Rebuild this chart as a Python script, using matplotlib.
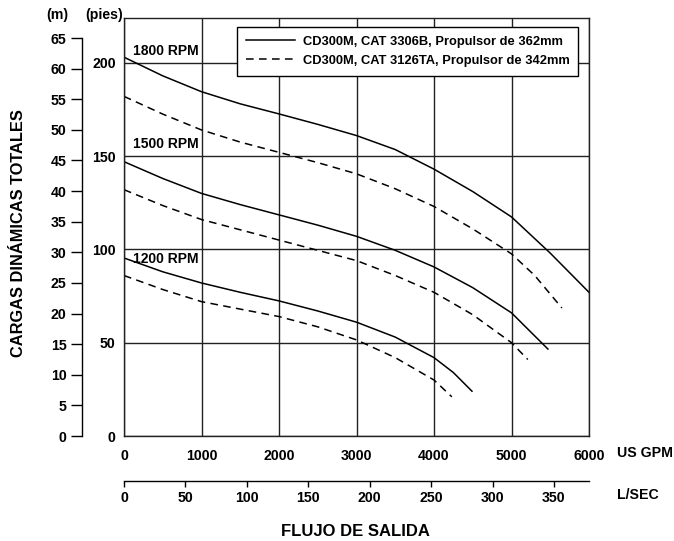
import matplotlib
matplotlib.use("Agg")
import matplotlib.pyplot as plt

plt.rcParams["font.family"] = ["Liberation Sans", "DejaVu Sans"]
plt.rcParams["font.weight"] = "bold"

# pump curves, flow in US GPM, head in feet
GPM_PER_LS = 15.8503

solid_1800_x = [0, 500, 1000, 1500, 2000, 2500, 3000, 3500, 4000, 4500, 5000, 5500, 6000]
solid_1800_y = [203, 193, 184.5, 178, 172.6, 167, 161, 153.5, 143, 131, 117.4, 98, 77]
dash_1800_x = [0, 500, 1000, 1500, 2000, 2500, 3000, 3500, 4000, 4500, 5000, 5300, 5650]
dash_1800_y = [182, 172.5, 164, 157.5, 152, 146.5, 140.5, 132.5, 123, 111, 97.6, 86, 68.6]

solid_1500_x = [0, 500, 1000, 1500, 2000, 2500, 3000, 3500, 4000, 4500, 5000, 5470]
solid_1500_y = [147, 138, 130, 124, 118.5, 113, 107, 99.5, 90.6, 79.5, 66, 46.6]
dash_1500_x = [0, 500, 1000, 1500, 2000, 2500, 3000, 3500, 4000, 4500, 5000, 5210]
dash_1500_y = [132, 123.5, 116, 110.5, 105, 99.5, 94, 86, 77, 65, 50, 41]

solid_1200_x = [0, 500, 1000, 1500, 2000, 2500, 3000, 3500, 4000, 4250, 4490]
solid_1200_y = [95.4, 88, 82, 77, 72.4, 67, 61, 53, 42, 34, 24]
dash_1200_x = [0, 500, 1000, 1500, 2000, 2500, 3000, 3500, 4000, 4230]
dash_1200_y = [86, 78.5, 72, 68, 64, 58.5, 51.5, 42, 30, 21]

gpm_ticks = [0, 1000, 2000, 3000, 4000, 5000, 6000]
ft_ticks = [0, 50, 100, 150, 200]
m_ticks = list(range(0, 70, 5))
ls_ticks = list(range(0, 400, 50))

legend_labels = ["CD300M, CAT 3306B, Propulsor de 362mm",
                 "CD300M, CAT 3126TA, Propulsor de 342mm"]
rpm_labels = ["1800 RPM", "1500 RPM", "1200 RPM"]

fig = plt.figure(figsize=(6.74, 5.41), dpi=100)
ax = fig.add_axes([124 / 674, 105 / 541, 465 / 674, 418 / 541])
ax.set_xlim(0, 6000)
ax.set_ylim(0, 224)

ax.grid(True, color="#222222", linewidth=1.0)
ax.set_axisbelow(True)
for sp in ax.spines.values():
    sp.set_linewidth(1.0)
    sp.set_color("#222222")

fs = 10.2
lw = 1.1
dash = (0, (5, 3.5))
ax.plot(solid_1800_x, solid_1800_y, color="black", lw=lw, label=legend_labels[0])
ax.plot(dash_1800_x, dash_1800_y, color="black", lw=lw, ls=dash, label=legend_labels[1])
ax.plot(solid_1500_x, solid_1500_y, color="black", lw=lw)
ax.plot(dash_1500_x, dash_1500_y, color="black", lw=lw, ls=dash)
ax.plot(solid_1200_x, solid_1200_y, color="black", lw=lw)
ax.plot(dash_1200_x, dash_1200_y, color="black", lw=lw, ls=dash)

ax.text(115, 202.5, rpm_labels[0], fontsize=10, fontweight="bold", va="bottom")
ax.text(115, 152.5, rpm_labels[1], fontsize=10, fontweight="bold", va="bottom")
ax.text(115, 98.5, rpm_labels[2], fontsize=10, fontweight="bold", va="top")

ax.set_xticks(gpm_ticks)
ax.set_yticks(ft_ticks)
ax.tick_params(axis="both", length=0, labelsize=fs)
ax.tick_params(axis="x", pad=9)
ax.tick_params(axis="y", pad=6)

leg = ax.legend(loc="upper right", bbox_to_anchor=(0.977, 0.979), fontsize=9.3,
                frameon=True, fancybox=False, edgecolor="black", framealpha=1,
                handlelength=3.8, borderpad=0.7, labelspacing=0.55,
                handletextpad=0.6, borderaxespad=0)
leg.get_frame().set_linewidth(1.0)
for t in leg.get_texts():
    t.set_fontweight("bold")

# meter axis on the left
ft2m = lambda v: v / 3.28084
m2ft = lambda v: v * 3.28084
sec_y = ax.secondary_yaxis(-42 / 465, functions=(ft2m, m2ft))
sec_y.set_yticks(m_ticks)
sec_y.spines["left"].set_bounds(0, 65)
sec_y.spines["left"].set_linewidth(1.0)
sec_y.tick_params(axis="y", length=8, width=1.0, labelsize=fs, pad=3)

# L/SEC axis below
gpm2ls = lambda v: v / GPM_PER_LS
ls2gpm = lambda v: v * GPM_PER_LS
sec_x = ax.secondary_xaxis(-45 / 418, functions=(gpm2ls, ls2gpm))
sec_x.set_xticks(ls_ticks)
sec_x.spines["bottom"].set_bounds(0, 6000 / GPM_PER_LS)
sec_x.spines["bottom"].set_linewidth(1.0)
sec_x.tick_params(axis="x", length=4, width=1.0, labelsize=fs, pad=3)

fig.text(617 / 674, 1 - 453 / 541, "US GPM", fontsize=fs, fontweight="bold", va="center")
fig.text(617 / 674, 1 - 495 / 541, "L/SEC", fontsize=fs, fontweight="bold", va="center")
fig.text(355 / 674, 1 - 532 / 541, "FLUJO DE SALIDA", fontsize=12, fontweight="bold",
         ha="center", va="center")
fig.text(19 / 674, 1 - 233 / 541, "CARGAS DINÁMICAS TOTALES", fontsize=11.8,
         fontweight="bold", rotation=90, ha="center", va="center")
fig.text(57 / 674, 1 - 15 / 541, "(m)", fontsize=fs, fontweight="bold", ha="center", va="center")
fig.text(104 / 674, 1 - 15 / 541, "(pies)", fontsize=fs, fontweight="bold", ha="center", va="center")

fig.savefig("out.png", dpi=100)
